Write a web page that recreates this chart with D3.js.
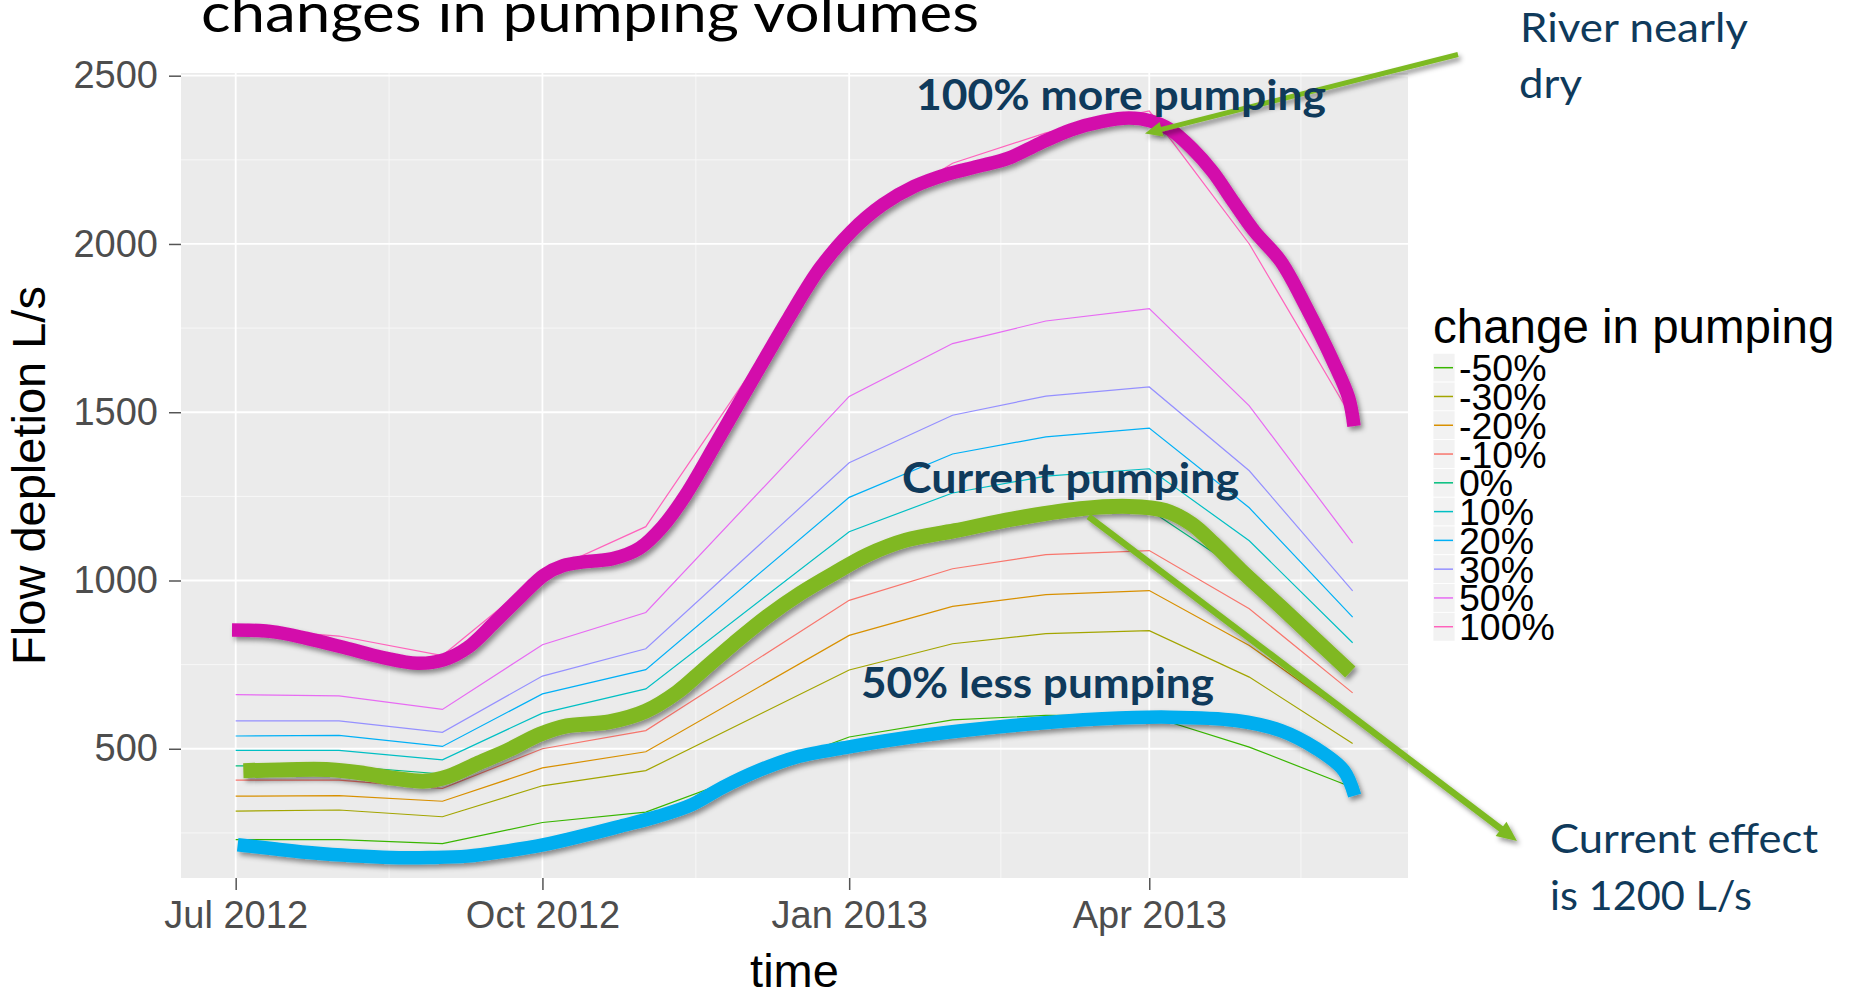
<!DOCTYPE html>
<html><head><meta charset="utf-8">
<script src="https://cdn.jsdelivr.net/npm/d3@7"></script>
<style>
html,body{margin:0;padding:0;background:#fff;}
svg{display:block;}
</style></head><body>
<svg id="chart" width="1855" height="991"></svg>
<script>
// ---------------- DATA ----------------
const dates = ["2012-07-01","2012-08-01","2012-09-01","2012-10-01","2012-11-01",
               "2013-01-01","2013-02-01","2013-03-01","2013-04-01","2013-05-01","2013-06-01"];
const seriesNames = ["-50%","-30%","-20%","-10%","0%","10%","20%","30%","50%","100%"];
const valsM50  = [230, 230, 218, 281, 312, 535, 586, 599, 598, 505, 385];
const valsM30  = [315, 318, 298, 390, 435, 734, 812, 842, 851, 713, 516];
const valsM20  = [359, 361, 344, 443, 491, 837, 923, 958, 970, 807, 590];
const valsM10  = [407, 407, 382, 500, 554, 941, 1035, 1077, 1089, 916, 666];
const valsP0   = [449, 449, 425, 553, 616, 1045, 1150, 1192, 1210, 1012, 740];
const valsP10  = [495, 495, 467, 606, 678, 1145, 1260, 1310, 1332, 1118, 815];
const valsP20  = [538, 540, 507, 663, 735, 1247, 1376, 1427, 1453, 1216, 891];
const valsP30  = [583, 583, 549, 716, 797, 1350, 1491, 1548, 1575, 1326, 969];
const valsP50  = [661, 657, 617, 809, 905, 1547, 1704, 1771, 1808, 1519, 1111];
const valsP100 = [858, 835, 777, 1020, 1160, 2050, 2240, 2330, 2395, 2000, 1480];
const seriesColors = ["#39B600","#A3A500","#D89000","#F8766D","#00BF7D",
                      "#00BFC4","#00B0F6","#9590FF","#E76BF3","#FF62BC"];
const yTicks = [500, 1000, 1500, 2000, 2500];
const yMinor = [250, 750, 1250, 1750, 2250];
const xTickDates = ["2012-07-01","2012-10-01","2013-01-01","2013-04-01"];
const xTickLabels = ["Jul 2012","Oct 2012","Jan 2013","Apr 2013"];
const xMinorDates = ["2012-08-16","2012-11-16","2013-02-15T12:00","2013-05-16T12:00"];
// hand-drawn highlight curves: [days after 2012-07-01, L/s]
const hlMore = [[-1.1,853],[10.9,848],[21.3,828],[32.8,800],[44.2,771],[54.6,754],[62.6,765],[69.5,800],
  [77.5,874],[85.6,953],[92.5,1016],[98.2,1044],[105.1,1056],[113.1,1065],[121.1,1096],[128,1160],
  [135,1255],[144.1,1409],[156.5,1622],[165.9,1781],[175.3,1929],[184.7,2038],[194.1,2117],[203.5,2171],
  [213,2206],[222.4,2230],[231.8,2255],[241.2,2299],[250.6,2339],[260,2364],[267.9,2374],[274.2,2366],
  [280.4,2339],[286.7,2285],[293,2215],[299.2,2126],[305.5,2038],[313.4,1949],[321.2,1810],[329.1,1652],
  [333.8,1543],[335.4,1459]];
const hlCurrent = [[2.3,435],[15.5,438],[28.2,438],[38.5,427],[47.7,412],[56.9,404],[63.8,418],[72.9,458],
  [82.1,498],[91.3,543],[99.3,568],[112,580],[123,612],[132.4,668],[140.4,736],[149.4,813],[159.4,893],
  [169.4,962],[179.4,1021],[189.4,1076],[201,1120],[215.7,1148],[233.2,1183],[253.3,1213],[268,1220],
  [278.7,1208],[286.7,1168],[293.4,1109],[301.5,1030],[313.5,921],[324.2,822],[334.3,728]];
const hlLess = [[0.6,215],[12.1,202],[23.6,190],[35,182],[46.5,177],[58,177],[69.5,181],[81,196],
  [92.5,215],[103.9,241],[115.4,270],[126.9,300],[137,335],[146,385],[157,436],[168,475],
  [183.6,505],[206.4,540],[233.2,569],[259.9,589],[280,594],[300.1,584],[313.5,554],[324.2,500],
  [332.3,436],[335.6,361]];
const annotationTexts = ["100% more pumping","Current pumping","50% less pumping"];

// ---------------- LAYOUT ----------------
const P = {left:181, right:1408, top:73, bottom:878};
const parse = s => new Date(s + (s.length === 10 ? "T00:00:00Z" : ":00Z"));
const DAY = 864e5;
const t0 = parse(dates[0]), t1 = parse(dates[dates.length-1]);
const x = d3.scaleUtc().domain([new Date(+t0 - 16.4*DAY), new Date(+t1 + 16.6*DAY)]).range([P.left, P.right]);
const y = d3.scaleLinear().domain([116, 2508]).range([P.bottom, P.top]);
const dayDate = d => new Date(+t0 + d*DAY);

const svg = d3.select("#chart");
const defs = svg.append("defs");
const f = defs.append("filter").attr("id","sh").attr("x","-20%").attr("y","-20%").attr("width","140%").attr("height","140%");
f.append("feDropShadow").attr("dx",2.5).attr("dy",3.5).attr("stdDeviation",2.4)
  .attr("flood-color","#000").attr("flood-opacity",0.42);

// title (partially cut off at the top)
svg.append("text").attr("x",201).attr("y",32)
  .attr("font-family","Lato, 'Open Sans', sans-serif").attr("font-size",54)
  .attr("textLength",778).attr("lengthAdjust","spacingAndGlyphs")
  .attr("fill","#000").text("changes in pumping volumes");

// panel
svg.append("rect").attr("x",P.left).attr("y",P.top).attr("width",P.right-P.left).attr("height",P.bottom-P.top)
  .attr("fill","#EBEBEB");
const grid = svg.append("g");
yMinor.forEach(v => grid.append("line").attr("x1",P.left).attr("x2",P.right).attr("y1",y(v)).attr("y2",y(v))
  .attr("stroke","#F7F7F7").attr("stroke-width",1));
xMinorDates.forEach(s => grid.append("line").attr("y1",P.top).attr("y2",P.bottom).attr("x1",x(parse(s))).attr("x2",x(parse(s)))
  .attr("stroke","#F7F7F7").attr("stroke-width",1));
yTicks.forEach(v => grid.append("line").attr("x1",P.left).attr("x2",P.right).attr("y1",y(v)).attr("y2",y(v))
  .attr("stroke","#FFFFFF").attr("stroke-width",1.8));
xTickDates.forEach(s => grid.append("line").attr("y1",P.top).attr("y2",P.bottom).attr("x1",x(parse(s))).attr("x2",x(parse(s)))
  .attr("stroke","#FFFFFF").attr("stroke-width",1.8));

// axes
const fontAxis = "'Liberation Sans', Arial, sans-serif";
const xAxis = svg.append("g").attr("transform",`translate(0,${P.bottom})`)
  .call(d3.axisBottom(x).tickValues(xTickDates.map(parse)).tickFormat((d,i)=>xTickLabels[i]).tickSize(12).tickPadding(11));
const yAxis = svg.append("g").attr("transform",`translate(${P.left},0)`)
  .call(d3.axisLeft(y).tickValues(yTicks).tickFormat(d3.format("d")).tickSize(12).tickPadding(11));
[xAxis,yAxis].forEach(a => {
  a.select(".domain").remove();
  a.selectAll(".tick line").attr("stroke","#555").attr("stroke-width",1.5);
  a.selectAll("text").attr("font-family",fontAxis).attr("font-size",38).attr("fill","#4D4D4D");
});
svg.append("text").attr("x",(P.left+P.right)/2).attr("y",987).attr("text-anchor","middle")
  .attr("font-family",fontAxis).attr("font-size",47).attr("fill","#000").text("time");
svg.append("text").attr("transform",`translate(45,${(P.top+P.bottom)/2}) rotate(-90)`).attr("text-anchor","middle")
  .attr("font-family",fontAxis).attr("font-size",47).attr("fill","#000").text("Flow depletion L/s");

// thin series lines
const allVals = [valsM50,valsM30,valsM20,valsM10,valsP0,valsP10,valsP20,valsP30,valsP50,valsP100];
const series = seriesNames.map((n,i)=>({name:n, color:seriesColors[i],
  pts: dates.map((d,j)=>({t:parse(d), v:allVals[i][j]}))}));
const line = d3.line().x(d=>x(d.t)).y(d=>y(d.v));
const drawOrder = [3,2,1,0,4,5,6,7,8,9];
const thin = svg.append("g");
drawOrder.forEach(i => thin.append("path").attr("d",line(series[i].pts)).attr("fill","none")
  .attr("stroke",series[i].color).attr("stroke-width",1.2));

// highlighted hand-drawn curves
const curve = d3.line().x(d=>x(dayDate(d[0]))).y(d=>y(d[1])).curve(d3.curveCatmullRom.alpha(0.5));
const hl = svg.append("g");
[[hlMore,"#D30DAB",13.5],[hlCurrent,"#80B822",15],[hlLess,"#00AEEF",13.5]].forEach(([pts,c,w]) =>
  hl.append("path").attr("d",curve(pts)).attr("fill","none").attr("stroke",c).attr("stroke-width",w)
    .attr("stroke-linecap","butt").attr("stroke-linejoin","round").attr("filter","url(#sh)"));

// arrows
function arrow(x1,y1,x2,y2,w,len,hw,color){
  const g = svg.append("g").attr("filter","url(#sh)");
  const dx=x2-x1, dy=y2-y1, L=Math.hypot(dx,dy), ux=dx/L, uy=dy/L;
  const bx=x2-ux*len, by=y2-uy*len;
  g.append("line").attr("x1",x1).attr("y1",y1).attr("x2",bx+ux*2).attr("y2",by+uy*2)
    .attr("stroke",color).attr("stroke-width",w);
  g.append("path").attr("d",`M${x2},${y2}L${bx-uy*hw},${by+ux*hw}L${bx+uy*hw},${by-ux*hw}Z`).attr("fill",color);
}
arrow(1458,54.5,1145,133.5,5,17,7.5,"#7DBA24");
arrow(1088.5,516.5,1517,841,6.5,20,9,"#7DBA24");

// annotation texts
const navy = "#0F3A5B";
const ann = [
  {t:annotationTexts[0], x:916, y:110, w:410, bold:true},
  {t:annotationTexts[1], x:902, y:493, w:337, bold:true},
  {t:annotationTexts[2], x:861, y:698, w:353, bold:true},
  {t:"River nearly", x:1520, y:42, w:228},
  {t:"dry", x:1519, y:98, w:63},
  {t:"Current effect", x:1550, y:852.7, w:268},
  {t:"is 1200 L/s", x:1550, y:910, w:202}
];
ann.forEach(a => svg.append("text").attr("x",a.x).attr("y",a.y)
  .attr("font-family","Lato, 'Open Sans', sans-serif").attr("font-weight",a.bold?700:400)
  .attr("font-size",a.bold?42:40).attr("fill",navy)
  .attr("textLength",a.w).attr("lengthAdjust","spacingAndGlyphs").text(a.t));

// legend
const lg = svg.append("g");
lg.append("text").attr("x",1433).attr("y",343).attr("font-family",fontAxis).attr("font-size",47.5)
  .attr("fill","#000").text("change in pumping");
series.forEach((s,i) => {
  const cy = 367.7 + i*28.78;
  lg.append("rect").attr("x",1433).attr("y",cy-14.4).attr("width",22).attr("height",28.8).attr("fill","#F2F2F2")
    .attr("stroke","#FFFFFF").attr("stroke-width",0.8);
  lg.append("line").attr("x1",1434).attr("x2",1453).attr("y1",cy).attr("y2",cy)
    .attr("stroke",s.color).attr("stroke-width",1.5);
  lg.append("text").attr("x",1459).attr("y",cy+13.5).attr("font-family",fontAxis).attr("font-size",37.5)
    .attr("fill","#000").text(s.name);
});
</script>
</body></html>
